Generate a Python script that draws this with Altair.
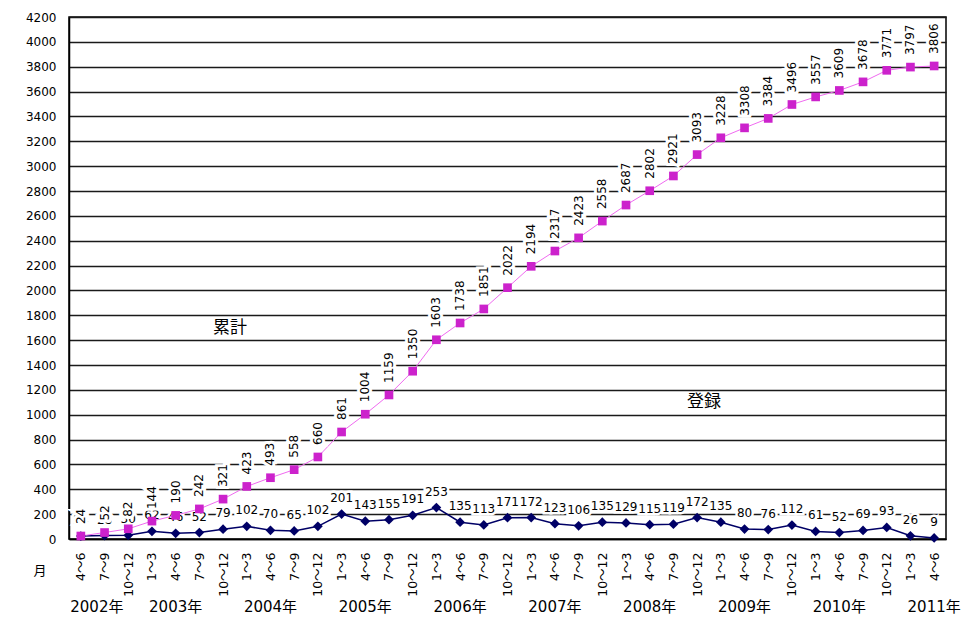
import altair as alt
import pandas as pd

# ---- data ----
quarter_labels = ["4～6", "7～9", "10～12",
                  "1～3", "4～6", "7～9", "10～12",
                  "1～3", "4～6", "7～9", "10～12",
                  "1～3", "4～6", "7～9", "10～12",
                  "1～3", "4～6", "7～9", "10～12",
                  "1～3", "4～6", "7～9", "10～12",
                  "1～3", "4～6", "7～9", "10～12",
                  "1～3", "4～6", "7～9", "10～12",
                  "1～3", "4～6", "7～9", "10～12",
                  "1～3", "4～6"]
quarter_years = [2002, 2002, 2002,
                 2003, 2003, 2003, 2003,
                 2004, 2004, 2004, 2004,
                 2005, 2005, 2005, 2005,
                 2006, 2006, 2006, 2006,
                 2007, 2007, 2007, 2007,
                 2008, 2008, 2008, 2008,
                 2009, 2009, 2009, 2009,
                 2010, 2010, 2010, 2010,
                 2011, 2011]
cumulative = [24, 52, 82, 144, 190, 242, 321, 423, 493, 558, 660, 861, 1004, 1159,
              1350, 1603, 1738, 1851, 2022, 2194, 2317, 2423, 2558, 2687, 2802, 2921,
              3093, 3228, 3308, 3384, 3496, 3557, 3609, 3678, 3771, 3797, 3806]
registered = [24, 28, 30, 62, 46, 52, 79, 102, 70, 65, 102, 201, 143, 155, 191, 253,
              135, 113, 171, 172, 123, 106, 135, 129, 115, 119, 172, 135, 80, 76, 112,
              61, 52, 69, 93, 26, 9]
year_labels = ["2002年", "2003年", "2004年", "2005年", "2006年",
               "2007年", "2008年", "2009年", "2010年", "2011年"]
year_anchor_quarter = ["4～6"] * 10
y_ticks = list(range(0, 4201, 200))
annotations = ["累計", "登録"]
annotation_quarter = [(2003, "10～12"), (2008, "10～12")]
annotation_value = [1700, 1100]

# ---- tables ----
keys = [f"{y}|{q}" for y, q in zip(quarter_years, quarter_labels)]
df = pd.DataFrame({"key": keys, "cum": cumulative, "reg": registered})
years_df = pd.DataFrame({
    "key": [f"{y[:4]}|{q}" for y, q in zip(year_labels, year_anchor_quarter)],
    "label": year_labels,
})
ann_df = pd.DataFrame({
    "key": [f"{y}|{q}" for y, q in annotation_quarter],
    "value": annotation_value,
    "label": annotations,
})

NUM_FONT = "DejaVu Sans"
JP_FONT = "DejaVu Sans, Noto Sans CJK JP"

x_enc = alt.X(
    "key:N",
    scale=alt.Scale(domain=keys, type="point", padding=0.5),
    axis=alt.Axis(
        title=None, labelAngle=270, labelExpr="split(datum.label, '|')[1]",
        ticks=False, labelPadding=13, grid=False, labelFont=JP_FONT,
        labelFontSize=12.5, labelColor="black", domainColor="black",
        domainWidth=1.5, labelOverlap=False,
    ),
)


def y_enc(field):
    return alt.Y(
        f"{field}:Q",
        scale=alt.Scale(domain=[0, 4200], nice=False, zero=True),
        axis=alt.Axis(
            title=None, values=y_ticks, format="d", ticks=False, labelPadding=13,
            labelFont=NUM_FONT, labelFontSize=12, labelColor="black",
            grid=True, gridColor="#1a1a1a", gridWidth=1.6,
            domainColor="black", domainWidth=1.5,
        ),
    )


base = alt.Chart(df)

cum_line = base.mark_line(color="#F06AF0", strokeWidth=1).encode(x=x_enc, y=y_enc("cum"))
cum_pts = base.mark_point(shape="square", filled=True, size=75, color="#CC22CC", opacity=1).encode(
    x=x_enc, y=y_enc("cum"))
reg_line = base.mark_line(color="#000066", strokeWidth=1.5).encode(x=x_enc, y=y_enc("reg"))
reg_pts = base.mark_point(shape="diamond", filled=True, size=95, color="#000066", opacity=1).encode(
    x=x_enc, y=y_enc("reg"))

reg_halo = base.mark_text(
    font=NUM_FONT, fontSize=12, baseline="alphabetic", dy=-12,
    color="white", stroke="white", strokeWidth=5,
).encode(x=x_enc, y=y_enc("reg"), text="reg:Q")
reg_text = base.mark_text(
    font=NUM_FONT, fontSize=12, baseline="alphabetic", dy=-12, color="black",
).encode(x=x_enc, y=y_enc("reg"), text="reg:Q")

cum_halo = base.mark_text(
    font=NUM_FONT, fontSize=12, angle=270, align="left", baseline="middle", dx=12,
    color="white", stroke="white", strokeWidth=6,
).encode(x=x_enc, y=y_enc("cum"), text="cum:Q")
cum_text = base.mark_text(
    font=NUM_FONT, fontSize=12, angle=270, align="left", baseline="middle", dx=12,
    color="black",
).encode(x=x_enc, y=y_enc("cum"), text="cum:Q")

year_first = alt.Chart(years_df.iloc[:1]).mark_text(
    font=JP_FONT, fontSize=15, baseline="middle", align="center", dx=16, color="black",
).encode(x=x_enc, y=alt.value(590), text="label:N")
year_rest = alt.Chart(years_df.iloc[1:]).mark_text(
    font=JP_FONT, fontSize=15, baseline="middle", align="center", color="black",
).encode(x=x_enc, y=alt.value(590), text="label:N")

month = alt.Chart(pd.DataFrame({"t": ["月"]})).mark_text(
    font="Noto Sans CJK JP", fontSize=13, baseline="middle", align="center", color="black",
).encode(x=alt.value(-29), y=alt.value(554), text="t:N")

ann = alt.Chart(ann_df).mark_text(
    font="Noto Sans CJK JP", fontSize=17, baseline="middle", align="center", dx=7, color="black",
).encode(x=x_enc, y=y_enc("value"), text="label:N")

chart = alt.layer(
    reg_line, reg_halo, reg_text, cum_line, cum_halo, cum_text,
    reg_pts, cum_pts, year_first, year_rest, month, ann,
).properties(
    width=877, height=522,
    autosize=alt.AutoSizeParams(type="none"),
    padding={"left": 69, "top": 17, "right": 34, "bottom": 79},
    background="white",
).configure_view(stroke="black", strokeWidth=1.5)

chart.save("out.html", embed_options={"renderer": "svg", "actions": False})
